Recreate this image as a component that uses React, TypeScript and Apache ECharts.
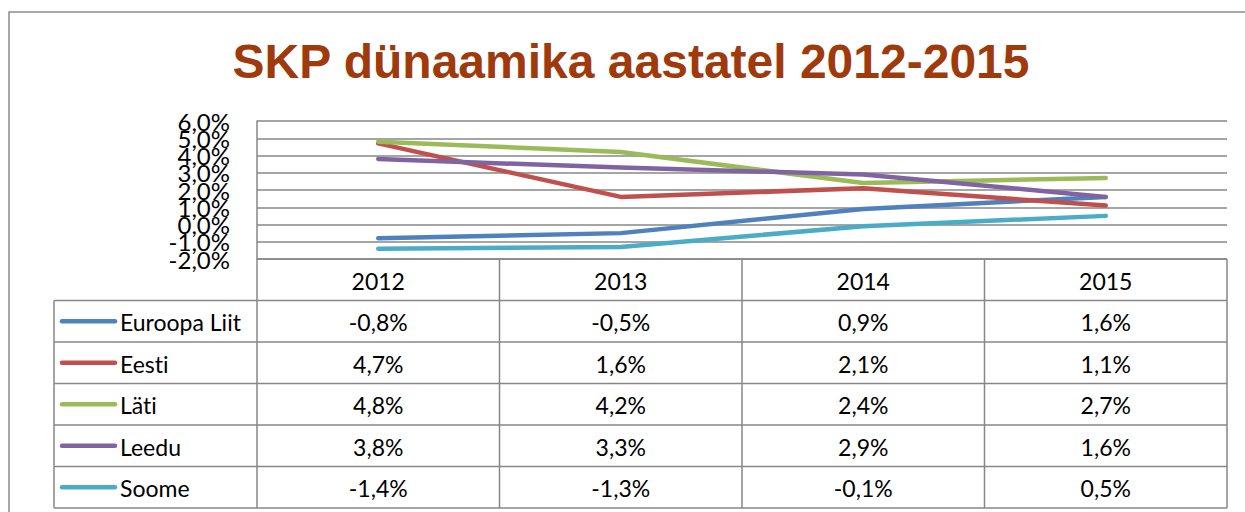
import React, { useEffect, useRef } from "react";
import * as echarts from "echarts";

const years = ["2012", "2013", "2014", "2015"];
const seriesNames = ["Euroopa Liit", "Eesti", "Läti", "Leedu", "Soome"];
const euroopaLiit = [-0.8, -0.5, 0.9, 1.6];
const eesti = [4.7, 1.6, 2.1, 1.1];
const lati = [4.8, 4.2, 2.4, 2.7];
const leedu = [3.8, 3.3, 2.9, 1.6];
const soome = [-1.4, -1.3, -0.1, 0.5];
const seriesValues = [euroopaLiit, eesti, lati, leedu, soome];
const colors = ["#4F81BD", "#C0504D", "#9BBB59", "#8064A2", "#4BACC6"];
const titleText = "SKP dünaamika aastatel 2012-2015";
const yTicks = [6, 5, 4, 3, 2, 1, 0, -1, -2];
const yMin = -2;
const yMax = 6;
const yInterval = 1;

const fmt = (v: number) => v.toFixed(1).replace(".", ",") + "%";

const W = 1245;
const H = 512;
const GRID_LEFT = 257;
const GRID_RIGHT_X = 1227;
const GRID_TOP = 121;
const GRID_BOTTOM = 259;
const ROW_H = 41.5;
const LEGEND_LEFT = 54;
const GRAY = "#878787";
const FONT = "Lato";
const TABLE_FS = 23;
const YLABEL_FS = 24;

export default function App() {
  const ref = useRef<HTMLDivElement>(null);
  useEffect(() => {
    if (!ref.current) return;
    const chart = echarts.init(ref.current, null, { renderer: "svg", width: W, height: H });
    chart.setOption({
      animation: false,
      backgroundColor: "#ffffff",
      grid: {
        left: GRID_LEFT,
        right: W - GRID_RIGHT_X,
        top: GRID_TOP,
        bottom: H - GRID_BOTTOM,
        containLabel: false,
      },
      xAxis: {
        type: "category",
        data: years,
        boundaryGap: true,
        axisLine: { show: false },
        axisTick: { show: false },
        axisLabel: { show: false },
      },
      yAxis: {
        type: "value",
        min: yMin,
        max: yMax,
        interval: yInterval,
        axisLine: { show: true, lineStyle: { color: GRAY, width: 1.5 } },
        axisTick: { show: false },
        axisLabel: { show: false },
        splitLine: { show: true, lineStyle: { color: GRAY, width: 1.5 } },
      },
      series: seriesNames.map((name, i) => ({
        name,
        type: "line",
        data: seriesValues[i],
        symbol: "none",
        lineStyle: { color: colors[i], width: 4.5, cap: "round", join: "round" },
        itemStyle: { color: colors[i] },
      })),
    });

    const centers = years.map((y) => chart.convertToPixel({ xAxisIndex: 0 }, y) as number);
    const band = centers.length > 1 ? centers[1] - centers[0] : GRID_RIGHT_X - GRID_LEFT;
    const bounds = [centers[0] - band / 2, ...centers.map((c) => c + band / 2)];

    const headerTop = GRID_BOTTOM;
    const headerBottom = headerTop + ROW_H;
    const tableBottom = headerBottom + seriesNames.length * ROW_H;
    const lineStyle = { stroke: GRAY, lineWidth: 1.5 };
    const els: any[] = [];

    els.push({
      type: "rect",
      shape: { x: 9, y: 12, width: 1300, height: 600 },
      style: { fill: "none", stroke: "#8c8c8c", lineWidth: 1.5 },
      silent: true,
    });
    els.push({
      type: "text",
      x: 631,
      y: 61,
      style: {
        text: titleText,
        fill: "#9E3A0C",
        font: "bold 48px 'Liberation Sans', Arial, sans-serif",
        textAlign: "center",
        textVerticalAlign: "middle",
      },
      silent: true,
    });
    // y-axis tick labels, positioned through the axis scale
    yTicks.forEach((v) => {
      const y = chart.convertToPixel({ yAxisIndex: 0 }, v) as number;
      els.push({
        type: "text",
        x: 230,
        y: y,
        style: {
          text: fmt(v),
          fill: "#000",
          font: `${YLABEL_FS}px ${FONT}`,
          textAlign: "right",
          textVerticalAlign: "middle",
        },
      });
    });
    els.push({
      type: "line",
      shape: { x1: bounds[0], y1: headerTop, x2: bounds[bounds.length - 1], y2: headerTop },
      style: lineStyle,
    });
    for (let r = 0; r <= seriesNames.length; r++) {
      const y = headerBottom + r * ROW_H;
      els.push({
        type: "line",
        shape: { x1: LEGEND_LEFT, y1: y, x2: bounds[bounds.length - 1], y2: y },
        style: lineStyle,
      });
    }
    els.push({
      type: "line",
      shape: { x1: LEGEND_LEFT, y1: headerBottom, x2: LEGEND_LEFT, y2: tableBottom },
      style: lineStyle,
    });
    bounds.forEach((x) => {
      els.push({
        type: "line",
        shape: { x1: x, y1: headerTop, x2: x, y2: tableBottom },
        style: lineStyle,
      });
    });
    years.forEach((y, j) => {
      els.push({
        type: "text",
        x: centers[j],
        y: (headerTop + headerBottom) / 2 + 1,
        style: {
          text: y,
          fill: "#000",
          font: `${TABLE_FS}px ${FONT}`,
          textAlign: "center",
          textVerticalAlign: "middle",
        },
      });
    });
    seriesNames.forEach((name, i) => {
      const cy = headerBottom + i * ROW_H + ROW_H / 2;
      els.push({
        type: "line",
        shape: { x1: 62, y1: cy, x2: 115, y2: cy },
        style: { stroke: colors[i], lineWidth: 4.5, lineCap: "round" },
      });
      els.push({
        type: "text",
        x: 120,
        y: cy + 1,
        style: {
          text: name,
          fill: "#000",
          font: `${TABLE_FS}px ${FONT}`,
          textAlign: "left",
          textVerticalAlign: "middle",
        },
      });
      seriesValues[i].forEach((v, j) => {
        els.push({
          type: "text",
          x: centers[j],
          y: cy + 1,
          style: {
            text: fmt(v),
            fill: "#000",
            font: `${TABLE_FS}px ${FONT}`,
            textAlign: "center",
            textVerticalAlign: "middle",
          },
        });
      });
    });

    chart.setOption({ graphic: { elements: els } });
    return () => chart.dispose();
  }, []);

  return (
    <>
      <style>{"svg text { font-variant-ligatures: none !important; font-feature-settings: 'liga' 0, 'clig' 0 !important; }"}</style>
      <div
        ref={ref}
        style={{ position: "absolute", left: 0, top: 0, width: W, height: H, background: "#fff" }}
      />
    </>
  );
}
